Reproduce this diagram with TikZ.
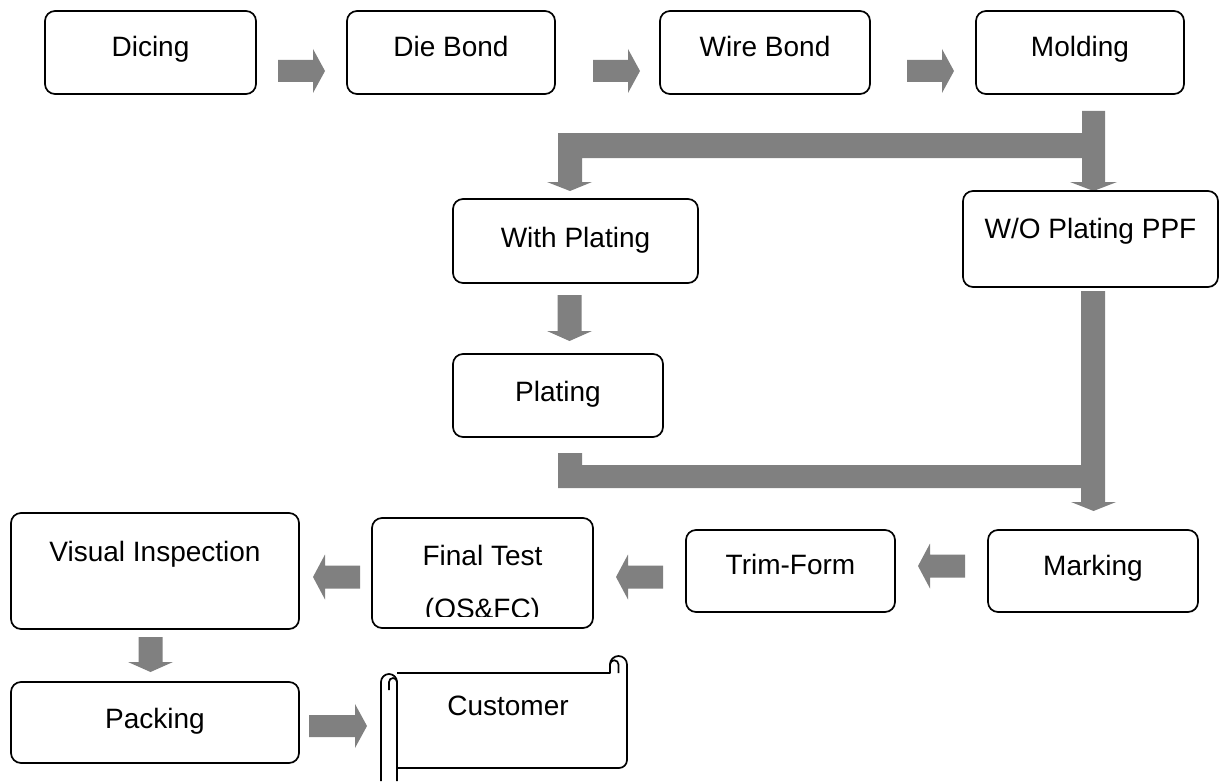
\documentclass[tikz,border=0pt]{standalone}
\usepackage{fontspec}
\setmainfont{Liberation Sans}
\definecolor{arrowgray}{HTML}{808080}
\newcommand\procbox[7]{%
  \node[box,minimum width={#4-#2},minimum height={#5-#3}] (#1) at ({(#2+#4)/2},{(#3+#5)/2}) {};
  \node[lbl] (#1-t) at ({(#2+#4)/2},#6) {#7};}
% right-pointing block arrow: tail x, tip x, centre y
\newcommand\arrR[3]{%
  \fill[arrowgray] (#1,#3-11) -- (#2-12,#3-11) -- (#2-12,#3-22) -- (#2,#3) -- (#2-12,#3+22) -- (#2-12,#3+11) -- (#1,#3+11) -- cycle;}
% left-pointing block arrow: tail x, tip x, centre y
\newcommand\arrL[3]{%
  \fill[arrowgray] (#1,#3-11.5) -- (#2+12,#3-11.5) -- (#2+12,#3-22.5) -- (#2,#3) -- (#2+12,#3+22.5) -- (#2+12,#3+11.5) -- (#1,#3+11.5) -- cycle;}
% down-pointing block arrow: centre x, tail y, tip y
\newcommand\arrD[3]{%
  \fill[arrowgray] (#1-12,#2) -- (#1+12,#2) -- (#1+12,#3-10) -- (#1+22.5,#3-10) -- (#1,#3) -- (#1-22.5,#3-10) -- (#1-12,#3-10) -- cycle;}
\begin{document}
\begin{tikzpicture}[x=1pt,y=-1pt,
  box/.style={draw=black,line width=1.7pt,rounded corners=10pt,inner sep=0pt,rectangle},
  lbl/.style={anchor=base,font=\fontsize{28}{33}\selectfont,inner sep=0pt},
  scroll/.style={draw=black,line width=1.7pt,line join=round}]
\useasboundingbox (0,0) rectangle (1230,781);

% top row
\procbox{dicing}{45}{11}{256}{94}{57}{Dicing}
\procbox{diebond}{347}{11}{555}{94}{57}{Die Bond}
\procbox{wirebond}{660}{11}{870}{94}{57}{Wire Bond}
\procbox{molding}{976}{11}{1184}{94}{57}{Molding}
\arrR{278}{325}{71}
\arrR{593}{640}{71}
\arrR{907}{954}{71}

% split after molding
\fill[arrowgray] (1082,111) -- (1105,111) -- (1105,182) -- (1117,182) -- (1093.5,191) -- (1070,182) -- (1082,182) -- (1082,158) -- (582,158) -- (582,182) -- (592,182) -- (570,191) -- (547,182) -- (558,182) -- (558,133) -- (1082,133) -- cycle;

\procbox{withplating}{453}{199}{698}{283}{247}{With Plating}
\procbox{woplating}{963}{191}{1218}{287}{238}{W/O Plating PPF}
\arrD{569.5}{295}{341}
\procbox{plating}{453}{354}{663}{437}{401}{Plating}

% merge into marking
\fill[arrowgray] (558,453) -- (582,453) -- (582,465) -- (1081,465) -- (1081,291) -- (1105,291) -- (1105,502) -- (1116,502) -- (1093.5,511) -- (1071,502) -- (1081,502) -- (1081,488) -- (558,488) -- cycle;

% bottom rows
\procbox{marking}{988}{530}{1198}{612}{575}{Marking}
\procbox{trimform}{686}{530}{895}{612}{574}{Trim-Form}
\procbox{finaltest}{372}{518}{593}{628}{565}{Final Test}
\begin{scope}
  \clip (372,518) rectangle (593,616);
  \node[lbl] (finaltest-t2) at (482.5,618) {(OS\&FC)};
\end{scope}
\procbox{visual}{11}{513}{299}{629}{561}{Visual Inspection}
\arrL{965}{918}{566}
\arrL{663}{616}{577}
\arrL{360}{313}{577}
\arrD{150.5}{637}{672}
\procbox{packing}{11}{682}{299}{763}{728}{Packing}
\arrR{309}{367}{726}

% customer scroll
\draw[scroll] (397,673) -- (610,673) -- (610,664.5) arc[start angle=180,end angle=360,radius=8.5] -- (627,760) arc[start angle=0,end angle=90,radius=8] -- (397,768);
\draw[scroll] (618.5,673) -- (618.5,664.5) arc[start angle=0,end angle=-180,radius=4.25];
\draw[scroll] (381,781) -- (381,682) arc[start angle=180,end angle=360,radius=8] -- (397,781);
\draw[scroll] (389,690) -- (389,682) arc[start angle=180,end angle=360,radius=4];
\node[lbl] (customer-t) at (508,715) {Customer};
\end{tikzpicture}
\end{document}
